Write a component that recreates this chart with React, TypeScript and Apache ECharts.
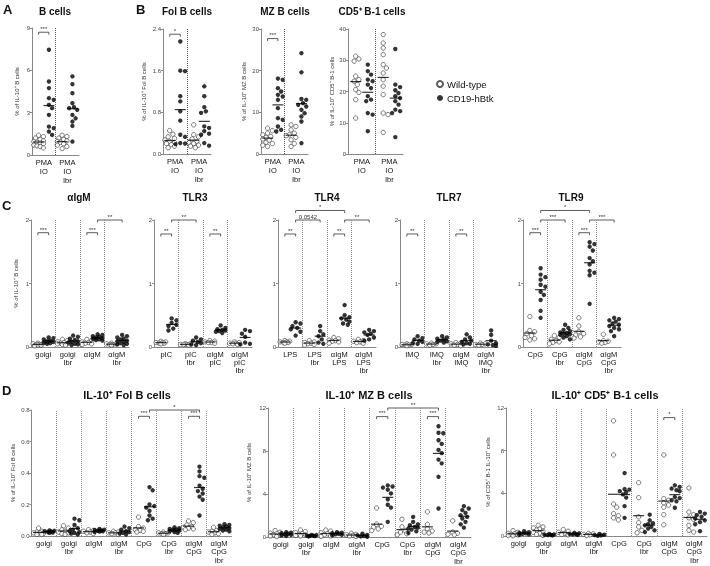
import React, { useEffect, useRef } from "react";
import * as echarts from "echarts";

// ---------- DATA ----------
const aGroups = ["PMA\nIO", "PMA\nIO\nIbr"];
const aWT = [[1.4, 1.3, 1.2, 1.1, 1.0, 0.95, 0.9, 0.85, 0.8, 0.7, 0.65, 0.6, 0.5], [1.4, 1.3, 1.2, 1.1, 1.0, 0.95, 0.9, 0.8, 0.7, 0.6, 0.45]];
const aHB = [[7.46, 5.21, 4.74, 4.03, 3.91, 3.55, 3.32, 2.84, 2.01, 1.9, 1.66, 1.42], [5.57, 5.02, 4.38, 3.67, 3.39, 3.32, 3.2, 2.84, 2.6, 2.37, 2.06, 0.95]];

const folWT = [[0.45, 0.38, 0.33, 0.3, 0.27, 0.24, 0.22, 0.2, 0.18, 0.15, 0.12], [0.56, 0.37, 0.33, 0.29, 0.24, 0.22, 0.2, 0.17, 0.15, 0.12]];
const folHB = [[2.16, 1.6, 1.59, 1.11, 1.01, 0.82, 0.64, 0.37, 0.33, 0.21, 0.2, 0.19], [1.3, 1.11, 0.9, 0.82, 0.79, 0.53, 0.5, 0.44, 0.39, 0.37, 0.21, 0.16]];

const mzWT = [[6.2, 5.6, 5.0, 4.6, 4.2, 4.0, 3.6, 3.3, 2.8, 2.5, 2.1, 1.8], [7.0, 6.6, 5.8, 5.0, 4.6, 4.4, 4.0, 3.4, 2.5, 1.8]];
const mzHB = [[18.1, 17.8, 15.8, 15.0, 14.2, 13.8, 13.0, 11.0, 8.6, 8.2, 6.6, 5.8, 5.4], [24.2, 19.6, 13.2, 13.0, 12.2, 11.8, 11.4, 10.6, 9.8, 9.0, 7.8, 2.6]];

const b1WT = [[31.3, 30.4, 29.7, 24.9, 23.8, 23.3, 22.2, 20.6, 19.7, 17.4, 11.5], [38.2, 35.5, 33.9, 31.8, 28.6, 27.5, 25.9, 23.8, 21.7, 19.0, 13.1, 12.6, 6.9]];
const b1HB = [[28.6, 26.5, 25.4, 23.8, 23.3, 22.2, 21.1, 18.5, 17.4, 16.9, 13.1, 12.6, 7.3], [33.6, 22.2, 21.4, 20.4, 19.5, 18.5, 17.9, 16.9, 15.8, 14.2, 13.7, 13.1, 5.4]];

const igmGroups = ["golgi", "golgi\nIbr", "αIgM", "αIgM\nIbr"];
const igmWT = [[0.06, 0.05, 0.05, 0.04, 0.04, 0.03, 0.03, 0.02], [0.12, 0.1, 0.08, 0.07, 0.06, 0.05, 0.05, 0.04, 0.03], [0.12, 0.1, 0.08, 0.07, 0.06, 0.05, 0.04], [0.06, 0.05, 0.05, 0.04, 0.04, 0.03]];
const igmHB = [[0.15, 0.14, 0.12, 0.1, 0.09, 0.08, 0.07, 0.06, 0.05], [0.18, 0.16, 0.13, 0.11, 0.09, 0.08, 0.07, 0.05, 0.04, 0.03], [0.2, 0.19, 0.17, 0.16, 0.15, 0.14, 0.13, 0.12, 0.11, 0.1], [0.19, 0.17, 0.15, 0.13, 0.12, 0.1, 0.09, 0.08, 0.06, 0.05, 0.04, 0.03]];

const tlr3Groups = ["pIC", "pIC\nIbr", "αIgM\npIC", "αIgM\npIC\nIbr"];
const tlr3WT = [[0.09, 0.08, 0.07, 0.07, 0.06, 0.06, 0.05], [0.05, 0.05, 0.04, 0.04, 0.04, 0.03], [0.1, 0.09, 0.08, 0.07, 0.07, 0.06], [0.08, 0.07, 0.06, 0.06, 0.05, 0.04]];
const tlr3HB = [[0.45, 0.42, 0.38, 0.35, 0.33, 0.29, 0.26], [0.15, 0.12, 0.1, 0.08, 0.06, 0.04, 0.03], [0.34, 0.3, 0.28, 0.27, 0.26, 0.25, 0.24, 0.22], [0.27, 0.25, 0.21, 0.16, 0.07, 0.05, 0.04]];

const tlr4Groups = ["LPS", "LPS\nIbr", "αIgM\nLPS", "αIgM\nLPS\nIbr"];
const tlr4WT = [[0.1, 0.09, 0.08, 0.08, 0.07, 0.07, 0.06], [0.1, 0.08, 0.07, 0.06, 0.05, 0.04, 0.03], [0.15, 0.13, 0.11, 0.1, 0.09, 0.08, 0.06], [0.12, 0.1, 0.09, 0.08, 0.07, 0.06]];
const tlr4HB = [[0.39, 0.37, 0.33, 0.3, 0.28, 0.24, 0.18], [0.33, 0.25, 0.2, 0.17, 0.12, 0.07, 0.05], [0.66, 0.5, 0.47, 0.45, 0.43, 0.4, 0.37, 0.35], [0.27, 0.25, 0.23, 0.21, 0.19, 0.15, 0.12, 0.1]];

const tlr7Groups = ["IMQ", "IMQ\nIbr", "αIgM\nIMQ", "αIgM\nIMQ\nIbr"];
const tlr7WT = [[0.05, 0.04, 0.04, 0.03, 0.03, 0.02], [0.06, 0.05, 0.05, 0.04, 0.03], [0.07, 0.06, 0.05, 0.04, 0.03, 0.02], [0.06, 0.05, 0.04, 0.04, 0.03]];
const tlr7HB = [[0.17, 0.14, 0.12, 0.1, 0.08, 0.06, 0.05], [0.17, 0.15, 0.13, 0.12, 0.1, 0.09, 0.08, 0.07], [0.2, 0.15, 0.12, 0.1, 0.08, 0.06, 0.05, 0.04], [0.26, 0.19, 0.1, 0.06, 0.04, 0.03, 0.02]];

const tlr9Groups = ["CpG", "CpG\nIbr", "αIgM\nCpG", "αIgM\nCpG\nIbr"];
const tlr9WT = [[0.48, 0.26, 0.24, 0.21, 0.18, 0.15, 0.13, 0.11], [0.18, 0.15, 0.12, 0.1, 0.08, 0.07, 0.05], [0.46, 0.33, 0.24, 0.21, 0.19, 0.16, 0.14], [0.2, 0.1, 0.09, 0.08, 0.07, 0.06]];
const tlr9HB = [[1.24, 1.14, 1.1, 1.06, 0.98, 0.95, 0.87, 0.82, 0.74, 0.57, 0.46], [0.35, 0.3, 0.27, 0.25, 0.23, 0.22, 0.21, 0.2, 0.19, 0.17, 0.15, 0.12], [1.65, 1.62, 1.58, 1.52, 1.4, 1.35, 1.3, 1.2, 1.17, 1.13, 0.68], [0.46, 0.44, 0.42, 0.4, 0.37, 0.35, 0.33, 0.3, 0.28, 0.25, 0.17]];

const dGroups = ["golgi", "golgi\nIbr", "αIgM", "αIgM\nIbr", "CpG", "CpG\nIbr", "αIgM\nCpG", "αIgM\nCpG\nIbr"];
const dFolWT = [[0.05, 0.03, 0.025, 0.02, 0.02, 0.015, 0.01, 0.01], [0.065, 0.05, 0.04, 0.03, 0.025, 0.02, 0.015, 0.01], [0.04, 0.035, 0.03, 0.025, 0.02, 0.015], [0.03, 0.025, 0.02, 0.02, 0.015, 0.01], [0.12, 0.06, 0.05, 0.04, 0.035, 0.03, 0.025], [0.025, 0.02, 0.02, 0.015, 0.015, 0.01], [0.095, 0.085, 0.07, 0.06, 0.055, 0.05, 0.045, 0.04], [0.055, 0.035, 0.03, 0.025, 0.02, 0.015, 0.01]];
const dFolHB = [[0.035, 0.033, 0.03, 0.028, 0.025, 0.022, 0.02], [0.11, 0.1, 0.07, 0.05, 0.04, 0.03, 0.025, 0.02, 0.015, 0.01], [0.045, 0.04, 0.038, 0.035, 0.033, 0.03, 0.028, 0.025], [0.06, 0.05, 0.04, 0.03, 0.025, 0.02, 0.015, 0.01], [0.31, 0.29, 0.2, 0.19, 0.18, 0.16, 0.13, 0.11, 0.1], [0.055, 0.05, 0.045, 0.04, 0.038, 0.035, 0.03, 0.025, 0.02], [0.44, 0.41, 0.38, 0.37, 0.32, 0.3, 0.285, 0.27, 0.25, 0.23, 0.13], [0.075, 0.07, 0.065, 0.06, 0.055, 0.05, 0.045, 0.04, 0.035, 0.03]];

const dMzWT = [[0.6, 0.45, 0.35, 0.3, 0.2, 0.15, 0.1, 0.05], [0.65, 0.5, 0.4, 0.3, 0.25, 0.2, 0.15, 0.1], [0.65, 0.55, 0.4, 0.3, 0.2, 0.1, 0.05], [0.35, 0.25, 0.2, 0.15, 0.1, 0.05], [2.7, 1.2, 1.0, 0.9, 0.75, 0.6], [1.65, 0.95, 0.6, 0.45, 0.3, 0.2], [2.34, 1.18, 0.78, 0.56, 0.45, 0.37], [1.5, 0.45, 0.35, 0.25, 0.2]];
const dMzHB = [[0.45, 0.4, 0.35, 0.3, 0.25, 0.2, 0.15, 0.1], [0.2, 0.18, 0.15, 0.12, 0.1, 0.08, 0.05], [0.45, 0.4, 0.35, 0.3, 0.25, 0.2, 0.15], [0.3, 0.2, 0.15, 0.1, 0.05, 0.02], [4.8, 4.7, 4.6, 4.4, 4.05, 3.5, 3.0, 2.74, 1.4], [1.87, 1.4, 1.18, 1.1, 0.93, 0.87, 0.78, 0.69, 0.53, 0.37], [10.3, 9.7, 9.65, 9.0, 8.66, 8.1, 7.8, 7.2, 6.85, 5.6, 2.65], [2.87, 2.65, 2.5, 2.24, 2.02, 1.87, 1.71, 1.4, 1.18, 0.87]];

const dB1WT = [[0.5, 0.35, 0.25, 0.2, 0.15, 0.1, 0.05, 0.02], [1.0, 0.85, 0.75, 0.65, 0.55, 0.45, 0.35, 0.25, 0.15, 0.05], [0.6, 0.45, 0.35, 0.25, 0.15, 0.1], [0.25, 0.2, 0.15, 0.1, 0.05], [10.8, 7.6, 3.0, 2.7, 2.1, 1.9, 1.7, 1.5], [5.0, 3.6, 1.8, 1.25, 0.85, 0.53, 0.3], [7.6, 3.5, 3.35, 3.1, 2.9, 2.7, 2.0, 1.05], [4.5, 2.25, 2.0, 1.7, 1.55, 1.0, 0.53, 0.37]];
const dB1HB = [[0.45, 0.35, 0.3, 0.25, 0.2, 0.15, 0.1], [0.2, 0.15, 0.12, 0.1, 0.08, 0.05], [0.3, 0.25, 0.2, 0.18, 0.15, 0.1], [0.2, 0.12, 0.08, 0.05, 0.02], [5.9, 4.4, 4.35, 4.2, 4.1, 3.9, 3.6, 2.8, 1.7], [2.0, 1.47, 1.2, 1.1, 1.0, 0.85, 0.7, 0.53, 0.37], [4.75, 4.6, 4.45, 4.3, 4.2, 3.65, 3.55, 3.35, 3.25, 2.65], [2.25, 2.1, 1.95, 1.8, 1.63, 1.47, 1.3, 1.1, 0.45]];

// significance brackets: [group1, side1 (0=WT,1=hBtk), group2, side2, y, label]
const aBr = [[0, 0, 0, 1, 8.7, "***"]];
const folBr = [[0, 0, 0, 1, 2.3, "*"]];
const mzBr = [[0, 0, 0, 1, 27.7, "***"]];
const b1Br: any[] = [];
const igmBr = [[0, 0, 0, 1, 1.8, "***"], [2, 0, 2, 1, 1.8, "***"], [2, 1, 3, 1, 2.0, "**"]];
const tlr3Br = [[0, 0, 0, 1, 1.78, "**"], [0, 1, 1, 1, 2.0, "**"], [2, 0, 2, 1, 1.78, "**"]];
const tlr4Br = [[0, 0, 0, 1, 1.78, "**"], [0, 1, 1, 1, 2.0, "0.0542"], [0, 1, 2, 1, 2.15, "*"], [2, 0, 2, 1, 1.78, "**"], [2, 1, 3, 1, 2.0, "**"]];
const tlr7Br = [[0, 0, 0, 1, 1.78, "**"], [2, 0, 2, 1, 1.78, "**"]];
const tlr9Br = [[0, 0, 0, 1, 1.8, "***"], [0, 1, 1, 1, 2.0, "***"], [0, 1, 2, 1, 2.15, "*"], [2, 0, 2, 1, 1.8, "***"], [2, 1, 3, 1, 2.0, "***"]];
const dFolBr = [[4, 0, 4, 1, 0.76, "***"], [6, 0, 6, 1, 0.76, "***"], [4, 1, 6, 1, 0.8, "*"]];
const dMzBr = [[4, 0, 4, 1, 11.2, "***"], [6, 0, 6, 1, 11.2, "***"], [4, 1, 6, 1, 12, "**"]];
const dB1Br = [[6, 0, 6, 1, 11.1, "*"]];

const FONT = "'Liberation Sans', Arial, sans-serif";
const OFF = 0.22;

type Panel = {
  left: number; top: number; width: number; height: number;
  min: number; max: number; interval: number; dec: number;
  groups: string[]; wt: number[][]; hb: number[][]; br: any[];
  yName?: string; yGap?: number; lh: number; sepColor: string;
};

const panels: Panel[] = [
  { left: 32, top: 28, width: 47, height: 127, min: 0, max: 9, interval: 3, dec: 0, groups: aGroups, wt: aWT, hb: aHB, br: aBr, yName: "% of IL-10⁺ B cells", yGap: 12, lh: 9, sepColor: "#555" },
  { left: 163, top: 29, width: 48, height: 125, min: 0, max: 2.4, interval: 0.8, dec: 1, groups: aGroups, wt: folWT, hb: folHB, br: folBr, yName: "% of IL-10⁺ Fol B cells", yGap: 16, lh: 9, sepColor: "#555" },
  { left: 261, top: 29, width: 47, height: 125, min: 0, max: 30, interval: 10, dec: 0, groups: aGroups, wt: mzWT, hb: mzHB, br: mzBr, yName: "% of IL-10⁺ MZ B cells", yGap: 14, lh: 9, sepColor: "#555" },
  { left: 348, top: 29, width: 55, height: 125, min: 0, max: 40, interval: 10, dec: 0, groups: aGroups, wt: b1WT, hb: b1HB, br: b1Br, yName: "% of IL-10⁺ CD5⁺ B-1 cells", yGap: 12, lh: 9, sepColor: "#555" },
  { left: 31, top: 220, width: 98, height: 127, min: 0, max: 2, interval: 1, dec: 0, groups: igmGroups, wt: igmWT, hb: igmHB, br: igmBr, yName: "% of IL-10⁺ B cells", yGap: 12, lh: 8, sepColor: "#888" },
  { left: 154, top: 220, width: 98, height: 127, min: 0, max: 2, interval: 1, dec: 0, groups: tlr3Groups, wt: tlr3WT, hb: tlr3HB, br: tlr3Br, lh: 8, sepColor: "#888" },
  { left: 278, top: 220, width: 98, height: 127, min: 0, max: 2, interval: 1, dec: 0, groups: tlr4Groups, wt: tlr4WT, hb: tlr4HB, br: tlr4Br, lh: 8, sepColor: "#888" },
  { left: 400, top: 220, width: 98, height: 127, min: 0, max: 2, interval: 1, dec: 0, groups: tlr7Groups, wt: tlr7WT, hb: tlr7HB, br: tlr7Br, lh: 8, sepColor: "#888" },
  { left: 523, top: 220, width: 98, height: 127, min: 0, max: 2, interval: 1, dec: 0, groups: tlr9Groups, wt: tlr9WT, hb: tlr9HB, br: tlr9Br, lh: 8, sepColor: "#888" },
  { left: 31.5, top: 410, width: 200, height: 126, min: 0, max: 0.8, interval: 0.2, dec: 1, groups: dGroups, wt: dFolWT, hb: dFolHB, br: dFolBr, yName: "% of IL-10⁺ Fol B cells", yGap: 16, lh: 8.5, sepColor: "#888" },
  { left: 268, top: 408, width: 203, height: 129, min: 0, max: 12, interval: 4, dec: 0, groups: dGroups, wt: dMzWT, hb: dMzHB, br: dMzBr, yName: "% of IL-10⁺ MZ B cells", yGap: 16, lh: 8.5, sepColor: "#888" },
  { left: 506, top: 408, width: 201, height: 128, min: 0, max: 12, interval: 4, dec: 0, groups: dGroups, wt: dB1WT, hb: dB1HB, br: dB1Br, yName: "% of CD5⁺ B-1 IL-10⁺ cells", yGap: 15, lh: 8.5, sepColor: "#888" },
];

const titles = [
  { t: "A", x: 3, y: 3, s: 13, al: "left" },
  { t: "B cells", x: 55, y: 6, s: 10, al: "center" },
  { t: "B", x: 136, y: 3, s: 13, al: "left" },
  { t: "Fol B cells", x: 187, y: 6, s: 10, al: "center" },
  { t: "MZ B cells", x: 285, y: 6, s: 10, al: "center" },
  { t: "CD5⁺ B-1 cells", x: 372, y: 6, s: 10, al: "center" },
  { t: "C", x: 2, y: 199, s: 13, al: "left" },
  { t: "αIgM", x: 79, y: 192, s: 10, al: "center" },
  { t: "TLR3", x: 195, y: 192, s: 10, al: "center" },
  { t: "TLR4", x: 327, y: 192, s: 10, al: "center" },
  { t: "TLR7", x: 449, y: 192, s: 10, al: "center" },
  { t: "TLR9", x: 571, y: 192, s: 10, al: "center" },
  { t: "D", x: 2, y: 384, s: 13, al: "left" },
  { t: "IL-10⁺ Fol B cells", x: 127, y: 389, s: 11, al: "center" },
  { t: "IL-10⁺ MZ B cells", x: 369, y: 389, s: 11, al: "center" },
  { t: "IL-10⁺ CD5⁺ B-1 cells", x: 605, y: 389, s: 11, al: "center" },
];

function swarm(vals: number[], center: number, pxX: number, pxY: number): number[][] {
  const d = 4.2;
  const placed: { x: number; y: number }[] = [];
  const cands = [0, 1.6, -1.6, 3.2, -3.2, 4.8, -4.8];
  const sorted = [...vals].sort((a, b) => b - a);
  return sorted.map((v) => {
    const y = v * pxY;
    let best = 0;
    let bestScore = -1;
    for (const c of cands) {
      let md = Infinity;
      for (const p of placed) md = Math.min(md, Math.hypot(p.x - c, p.y - y));
      if (md >= d) { best = c; break; }
      if (md > bestScore) { bestScore = md; best = c; }
    }
    placed.push({ x: best, y });
    return [center + best / pxX, v];
  });
}

const mean = (a: number[]) => a.reduce((s, v) => s + v, 0) / a.length;

function buildOption() {
  const grid: any[] = [];
  const xAxis: any[] = [];
  const yAxis: any[] = [];
  const series: any[] = [];
  panels.forEach((p, i) => {
    const n = p.groups.length;
    grid.push({ left: p.left, top: p.top, width: p.width, height: p.height });
    xAxis.push({
      type: "category", gridIndex: i, data: p.groups,
      axisLine: { onZero: false, lineStyle: { color: "#888", width: 1 } },
      axisTick: { show: false },
      axisLabel: { fontSize: 7.5, color: "#111", lineHeight: p.lh, margin: 3, interval: 0, fontFamily: FONT },
      splitLine: { show: false },
    });
    xAxis.push({ type: "value", gridIndex: i, min: -0.5, max: n - 0.5, show: false, axisLine: { onZero: false } });
    yAxis.push({
      type: "value", gridIndex: i, min: p.min, max: p.max, interval: p.interval,
      axisLine: { show: true, onZero: false, lineStyle: { color: "#888", width: 1 } },
      axisTick: { show: true, length: 2, lineStyle: { color: "#888" } },
      axisLabel: { fontSize: 6, color: "#444", margin: 2, fontFamily: FONT, formatter: (v: number) => v.toFixed(p.dec) },
      splitLine: { show: false },
      name: p.yName || "", nameLocation: "middle", nameGap: p.yGap || 12,
      nameTextStyle: { fontSize: 6, color: "#333", fontFamily: FONT },
    });
    const xi = i * 2 + 1;
    const pxX = p.width / n;
    const pxY = p.height / (p.max - p.min);
    const wtPts: number[][] = [];
    const hbPts: number[][] = [];
    const means: number[][] = [];
    p.wt.forEach((g, gi) => { wtPts.push(...swarm(g, gi - OFF, pxX, pxY)); means.push([gi - OFF, mean(g)]); });
    p.hb.forEach((g, gi) => { hbPts.push(...swarm(g, gi + OFF, pxX, pxY)); means.push([gi + OFF, mean(g)]); });
    const seps = [];
    for (let k = 1; k < n; k++) seps.push({ xAxis: k - 0.5 });
    series.push({
      type: "scatter", name: "Wild-type", xAxisIndex: xi, yAxisIndex: i, data: wtPts,
      symbol: "circle", symbolSize: 4.4, silent: true, z: 3,
      itemStyle: { color: "#fff", borderColor: "#333", borderWidth: 0.8 },
      markLine: {
        silent: true, symbol: "none", label: { show: false },
        lineStyle: { color: p.sepColor, type: "dotted", width: 1 },
        data: seps,
      },
    });
    series.push({
      type: "scatter", name: "CD19-hBtk", xAxisIndex: xi, yAxisIndex: i, data: hbPts,
      symbol: "circle", symbolSize: 4.4, silent: true, z: 3,
      itemStyle: { color: "#000" },
    });
    series.push({
      type: "scatter", xAxisIndex: xi, yAxisIndex: i, data: means,
      symbol: "rect", symbolSize: [11, 1.2], silent: true, z: 4,
      itemStyle: { color: "#000" },
    });
  });

  return {
    animation: false,
    backgroundColor: "#fff",
    textStyle: { fontFamily: FONT },
    title: titles.map((t) => ({
      text: t.t, left: t.x, top: t.y, textAlign: t.al, padding: 0,
      textStyle: { fontSize: t.s, fontWeight: "bold", color: "#111", fontFamily: FONT },
    })),
    legend: {
      data: ["Wild-type", "CD19-hBtk"], orient: "vertical", left: 436, top: 79,
      itemWidth: 6, itemHeight: 6, itemGap: 4, icon: "circle", padding: 0,
      textStyle: { fontSize: 9.5, color: "#111", fontFamily: FONT, padding: [0, 0, 0, -1] },
      selectedMode: false,
    },
    grid, xAxis, yAxis, series,
  };
}

// brackets placed through the axes' own scales (convertToPixel)
function buildBrackets(chart: any) {
  const els: any[] = [];
  const st = { stroke: "#333", lineWidth: 0.8 };
  panels.forEach((p, i) => {
    const xi = i * 2 + 1;
    p.br.forEach((b: any) => {
      const ax = chart.convertToPixel({ xAxisIndex: xi }, b[0] + (b[1] ? OFF : -OFF));
      const bx = chart.convertToPixel({ xAxisIndex: xi }, b[2] + (b[3] ? OFF : -OFF));
      const y = chart.convertToPixel({ yAxisIndex: i }, b[4]);
      els.push({ type: "line", silent: true, shape: { x1: ax, y1: y, x2: bx, y2: y }, style: st });
      els.push({ type: "line", silent: true, shape: { x1: ax, y1: y, x2: ax, y2: y + 2.5 }, style: st });
      els.push({ type: "line", silent: true, shape: { x1: bx, y1: y, x2: bx, y2: y + 2.5 }, style: st });
      els.push({
        type: "text", silent: true, x: (ax + bx) / 2, y: y - 0.2,
        style: { text: String(b[5]), align: "center", verticalAlign: "bottom", fontSize: 6, fontFamily: FONT, fill: "#333" },
      });
    });
  });
  return els;
}

export default function App() {
  const ref = useRef<HTMLDivElement>(null);
  useEffect(() => {
    document.body.style.margin = "0";
    if (!ref.current) return;
    const chart = echarts.init(ref.current, undefined, { renderer: "svg" });
    chart.setOption(buildOption() as any);
    chart.setOption({ graphic: { elements: buildBrackets(chart) } } as any);
    return () => chart.dispose();
  }, []);
  return <div ref={ref} style={{ width: 710, height: 566, willChange: "transform" }} />;
}
